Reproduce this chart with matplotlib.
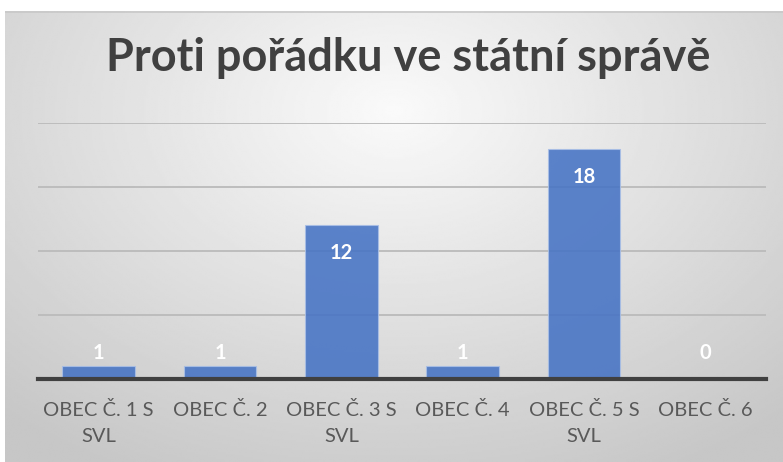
import numpy as np
import matplotlib.pyplot as plt

categories = ["OBEC Č. 1 S\nSVL", "OBEC Č. 2", "OBEC Č. 3 S\nSVL",
              "OBEC Č. 4", "OBEC Č. 5 S\nSVL", "OBEC Č. 6"]
values = [1, 1, 12, 1, 18, 0]
title = "Proti pořádku ve státní správě"

plt.rcParams['font.family'] = ['Lato', 'DejaVu Sans']

W, H = 783, 462
fig = plt.figure(figsize=(W / 100, H / 100), dpi=100)
fig.patch.set_facecolor("white")

# radial gray background like the Excel chart area
bg = fig.add_axes([5 / W, 0, 1 - 5 / W, (H - 11) / H], zorder=-2)
gx, gy = np.meshgrid(np.linspace(0, 1, 400), np.linspace(0, 1, 240))
r = np.sqrt(((gx - 0.5) / 0.75) ** 2 + ((gy - 0.22) / 0.9) ** 2)
shade = np.clip(0.98 - 0.20 * r, 0.78, 0.98)
bg.imshow(shade, cmap="gray", vmin=0, vmax=1, aspect="auto",
          extent=[0, 1, 1, 0], interpolation="bilinear")
bg.set_xlim(0, 1)
bg.set_ylim(1, 0)
bg.axis("off")
bg.plot([0, 1], [0.002, 0.002], color="#c8c8c8", lw=1.2)

ax = fig.add_axes([38 / W, (H - 379) / H, (766 - 38) / W, (379 - 123) / H])
ax.patch.set_alpha(0)
x = np.arange(len(values))
ax.bar(x, values, width=0.6, color="#4472C4", alpha=0.87,
       edgecolor="#a9bfe6", linewidth=0.8, zorder=3)
ax.set_xlim(-0.5, len(values) - 0.5)
ax.set_ylim(0, 20)
ax.set_yticks([5, 10, 15, 20])
ax.yaxis.grid(True, color="#bdbdbd", linewidth=1.4)
ax.tick_params(axis="y", left=False, labelleft=False)
ax.tick_params(axis="x", length=0, pad=16, labelsize=14.5, labelcolor="#595959")
ax.set_xticks(x)
ax.set_xticklabels(categories, linespacing=1.6)
for s in ["top", "right", "left"]:
    ax.spines[s].set_visible(False)
ax.spines["bottom"].set_color("#404040")
ax.spines["bottom"].set_linewidth(3)
ax.spines["bottom"].set_zorder(4)

# data labels: inside end, pushed up for short bars
px_per_unit = (379 - 123) / 20
for xi, v in zip(x, values):
    off = max(v * px_per_unit - 28, 26) * 0.72
    ax.annotate(str(v), (xi, 0), xytext=(0, off), textcoords="offset points",
                ha="center", va="center", color="white", fontsize=14.5,
                fontweight="bold", zorder=5, annotation_clip=False)

fig.text(408 / W, 1 - 58 / H, title, ha="center", va="center",
         fontsize=32.5, fontweight="bold", color="#404040")

fig.savefig("out.png", dpi=100)
